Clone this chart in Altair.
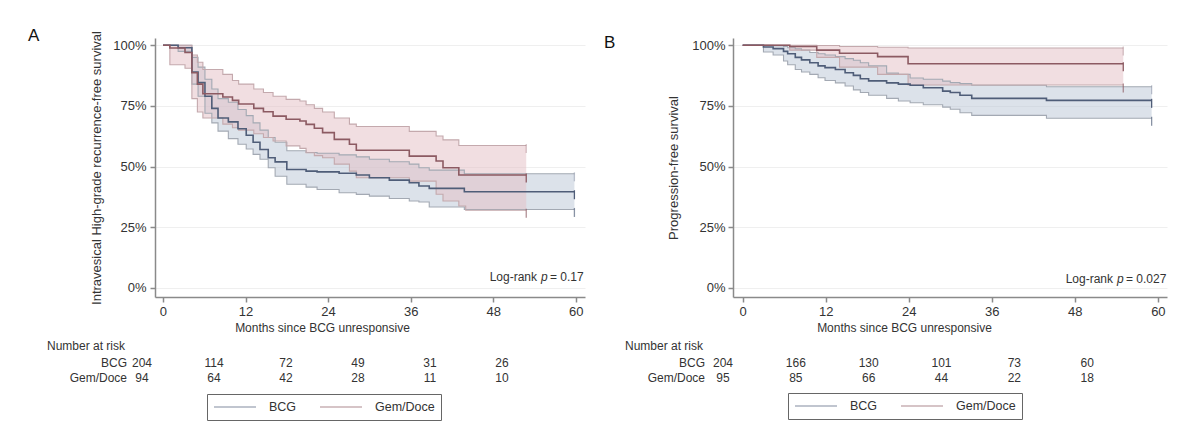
import altair as alt
import pandas as pd

GROUPS = ["BCG", "Gem/Doce"]
MONTH_TICKS = [0, 12, 24, 36, 48, 60]
PCT_TICKS = [0, 25, 50, 75, 100]

# ---------------- Panel A: intravesical high-grade recurrence-free survival
a_bcg_t = [0, 2.2, 4.2, 5.1, 6.1, 7.1, 8.0, 9.5, 10.9, 12.1, 13.1, 14.1, 15.3, 16.3, 18.0,
           20.8, 22.4, 25.6, 28.1, 30.0, 32.9, 35.8, 37.2, 38.7, 43.8, 59.8]
a_bcg_s = [100, 99, 89, 84.6, 79, 74, 70, 68.4, 65.6, 62.9, 60, 57, 53.6, 51.9, 48.8,
           48.1, 47.8, 47.2, 46.5, 45.4, 44.4, 43.3, 42, 41, 39.6, 39.6]
a_bcg_lo = [100, 97.5, 84, 79, 72, 68, 64.6, 61.5, 59.2, 57.2, 55, 53, 49.5, 46, 42.7,
            41.5, 40.5, 39.2, 38.5, 37.8, 36.8, 35.8, 35.4, 33.3, 32.3, 32.3]
a_bcg_hi = [100, 100, 95, 91, 86, 82, 78, 76.5, 73.5, 71, 68, 65, 62, 60, 56.5,
            55.8, 55.5, 54.8, 54, 53, 52, 51, 49.5, 48.5, 47, 47]

a_gem_t = [0, 1.0, 3.2, 4.2, 5.0, 5.8, 8.7, 10.1, 11.0, 13.2, 14.6, 16.0, 17.9, 19.9, 20.8,
           22.0, 23.2, 24.9, 27.1, 28.1, 35.8, 39.7, 40.7, 43.0, 44.0, 52.8]
a_gem_s = [100, 98.9, 97, 88.7, 84, 80, 78.7, 77.3, 75.8, 74, 72.6, 70.8, 69.5, 68.8, 67.4,
           65.8, 64, 61.2, 59.2, 56.7, 54.3, 52.3, 49.5, 46.5, 46.5, 46.5]
a_gem_lo = [100, 92, 90.5, 78, 72.5, 70, 67.5, 66, 65, 63.5, 62, 60.5, 58.5, 57.5, 55.7,
            54.5, 53.6, 51, 48.1, 45.4, 44, 38.6, 35.8, 33.7, 32.0, 32.0]
a_gem_hi = [100, 100, 100, 96, 93, 90, 88, 85.5, 84, 82, 80.5, 79, 77.7, 77, 75.5,
            74, 72.5, 70, 67.5, 66.5, 64.5, 62.6, 61, 58.7, 58.7, 58.7]

# ---------------- Panel B: progression-free survival
b_bcg_t = [0, 3.0, 4.4, 5.9, 6.5, 7.6, 8.5, 9.7, 10.9, 11.9, 13.4, 14.8, 16.0, 17.0, 18.2,
           20.8, 22.5, 24.2, 26.1, 28.9, 30.0, 31.4, 33.1, 43.9, 59.1]
b_bcg_s = [100, 99.3, 98.6, 97.5, 96.5, 95, 94, 92.8, 91.5, 90.8, 90, 88.7, 87.6, 86.2, 85.3,
           84.5, 84, 83.5, 82.5, 81.1, 80.5, 79.4, 78.1, 77.3, 77.3]
b_bcg_lo = [100, 97.2, 96, 93.5, 92, 90, 89, 88, 86.6, 85.5, 84.5, 83.2, 81.6, 80.5, 79.4,
            78.1, 77, 76.3, 75.5, 74.5, 73.6, 72.2, 71.1, 69.9, 69.9]
b_bcg_hi = [100, 100, 99.8, 99.5, 99, 98.5, 98, 97, 96.5, 96, 95.3, 94.5, 93.8, 92.8, 91.5,
            88.5, 88, 86.5, 86, 85.2, 84.6, 84.2, 83.5, 82.9, 82.9]

b_gem_t = [0, 6.8, 10.7, 14.0, 19.5, 23.9, 55.0]
b_gem_s = [100, 99.5, 98, 96.7, 95.3, 92.4, 92.4]
b_gem_lo = [100, 98, 95, 91, 88, 83.6, 83.6]
b_gem_hi = [100, 100, 99.9, 99.5, 99.2, 98.9, 98.9]

# ---------------- Number at risk
risk_a_bcg = [204, 114, 72, 49, 31, 26]
risk_a_gem = [94, 64, 42, 28, 11, 10]
risk_b_bcg = [204, 166, 130, 101, 73, 60]
risk_b_gem = [95, 85, 66, 44, 22, 18]

FONT = "Liberation Sans"
LINE_COLORS = ["#4f5d78", "#8c5a62"]
FILL_COLORS = ["#b9c6d6", "#e3bdc3"]
CI_COLORS = ["#a3a9b3", "#c4a9ad"]


def km(t, s, lo, hi, group):
    return pd.DataFrame({"t": t, "s": s, "lo": lo, "hi": hi, "group": group})


def panel(curves, risks, letter, ytitle, pvalue, geo):
    df = pd.concat(curves, ignore_index=True)
    ends = df.groupby("group").tail(1).melt(
        id_vars=["t", "group"], value_vars=["s", "lo", "hi"], var_name="kind", value_name="v")
    risk_df = pd.DataFrame({
        "t": MONTH_TICKS * 2,
        "n": risks[0] + risks[1],
        "row": [GROUPS[0]] * 6 + [GROUPS[1]] * 6,
    })
    rows_df = pd.DataFrame({"row": GROUPS})

    xs = alt.Scale(domain=geo["xdom"], nice=False, zero=False)
    xax = alt.Axis(values=MONTH_TICKS, title="Months since BCG unresponsive", grid=False,
                   titleX=geo["titleX"], titleAlign="center", labelPadding=3, titlePadding=4,
                   titleFontSize=12)
    ys = alt.Scale(domain=[-3.8, 103], nice=False, zero=False)
    yax = alt.Axis(values=PCT_TICKS, labelExpr="datum.value + '%'", grid=True, title=ytitle,
                   labelPadding=geo["labelPad"], titlePadding=geo["titlePad"], titleFontSize=13)

    def X():
        return alt.X("t:Q", scale=xs, axis=xax)

    def Y(f):
        return alt.Y(f, scale=ys, axis=yax)

    base = alt.Chart(df)
    area = base.mark_area(interpolate="step-after", fillOpacity=0.5).encode(
        x=X(), y=Y("lo:Q"), y2="hi:Q",
        fill=alt.Fill("group:N", scale=alt.Scale(domain=GROUPS, range=FILL_COLORS), legend=None))
    ci = base.transform_fold(["lo", "hi"], as_=["bound", "v"]).mark_line(
        interpolate="step-after", strokeWidth=1.1).encode(
        x=X(), y=Y("v:Q"),
        stroke=alt.Stroke("group:N", scale=alt.Scale(domain=GROUPS, range=CI_COLORS), legend=None),
        detail="bound:N")
    legend = alt.Legend(orient="none", legendX=geo["legX"], legendY=geo["legY"],
                        direction="horizontal", title=None, symbolType="stroke",
                        symbolSize=1764, clipHeight=14, symbolStrokeWidth=1.2,
                        symbolOpacity=0.4, labelFont=FONT, labelFontSize=12.5,
                        labelColor="#333", labelOffset=12, columnPadding=22, padding=6,
                        strokeColor="#666", cornerRadius=0)
    cscale = alt.Scale(domain=GROUPS, range=LINE_COLORS)
    line = base.mark_line(interpolate="step-after", strokeWidth=1.6).encode(
        x=X(), y=Y("s:Q"), color=alt.Color("group:N", scale=cscale, legend=legend))
    ticks = alt.Chart(ends).mark_tick(orient="vertical", size=9, thickness=1.3, yOffset=3).encode(
        x=X(), y=Y("v:Q"), color=alt.Color("group:N", scale=cscale),
        opacity=alt.Opacity("kind:N", scale=alt.Scale(domain=["s", "lo", "hi"], range=[1, 0.35, 0.35]),
                            legend=None))
    one = pd.DataFrame({"k": [0]})
    txt = dict(font=FONT, fontSize=12, color="#333", baseline="middle")
    lr1 = alt.Chart(one).mark_text(align="right", **txt).encode(
        x=alt.value(geo["lrX"][0]), y=alt.value(geo["lrY"]), text=alt.value("Log-rank"))
    lr2 = alt.Chart(one).mark_text(align="left", fontStyle="italic", **txt).encode(
        x=alt.value(geo["lrX"][1]), y=alt.value(geo["lrY"]), text=alt.value("p"))
    lr3 = alt.Chart(one).mark_text(align="left", **txt).encode(
        x=alt.value(geo["lrX"][2]), y=alt.value(geo["lrY"]), text=alt.value("= " + pvalue))

    main = alt.layer(area, ci, line, ticks, lr1, lr2, lr3)

    rs = alt.Scale(type="point", domain=GROUPS, range=[325, 340], padding=0)
    nums = alt.Chart(risk_df).mark_text(align="center", **txt).encode(
        x=alt.X("t:Q", scale=alt.Scale(domain=geo["tdom"], nice=False, zero=False), axis=None),
        y=alt.Y("row:N", scale=rs, axis=None), text="n:Q")
    rowlab = alt.Chart(rows_df).mark_text(align="right", **txt).encode(
        x=alt.value(-28), y=alt.Y("row:N", scale=rs, axis=None), text="row:N")
    head = alt.Chart(one).mark_text(align="left", **txt).encode(
        x=alt.value(-108), y=alt.value(308), text=alt.value("Number at risk"))
    table = alt.layer(nums, rowlab, head)

    return alt.layer(main, table).resolve_scale(x="independent", y="independent").properties(
        width=geo["w"], height=259,
        title=alt.TitleParams(letter, anchor="start", frame="group", dx=geo["dx"], offset=-14,
                              fontSize=17, fontWeight="normal", font=FONT, color="#111"))


A = panel([km(a_bcg_t, a_bcg_s, a_bcg_lo, a_bcg_hi, "BCG"),
           km(a_gem_t, a_gem_s, a_gem_lo, a_gem_hi, "Gem/Doce")],
          [risk_a_bcg, risk_a_gem], "A",
          "Intravesical High-grade recurrence-free survival", "0.17",
          dict(w=430, xdom=[-1.16, 61.34], tdom=[2.17, 73.83], titleX=167, labelPad=4,
               titlePad=9, legX=52, legY=356, lrX=[382, 386, 395], lrY=239, dx=-127))
B = panel([km(b_bcg_t, b_bcg_s, b_bcg_lo, b_bcg_hi, "BCG"),
           km(b_gem_t, b_gem_s, b_gem_lo, b_gem_hi, "Gem/Doce")],
          [risk_b_bcg, risk_b_gem], "B",
          "Progression-free survival", "0.027",
          dict(w=434, xdom=[-1.40, 61.32], tdom=[1.65, 73.15], titleX=171, labelPad=3,
               titlePad=11, legX=55, legY=355, lrX=[380, 384, 393], lrY=241, dx=-129))

chart = alt.hconcat(A, B, spacing=19).resolve_scale(
    color="independent", x="independent", y="independent"
).properties(
    padding={"left": 28, "top": 26, "right": 10, "bottom": 5}, background="white"
).configure_view(strokeWidth=0).configure_axis(
    domainColor="#8a8a8a", domainWidth=1.5, tickColor="#8a8a8a", tickWidth=1.5, tickSize=5,
    labelFont=FONT, labelFontSize=13, labelColor="#333", titleFont=FONT,
    titleFontWeight="normal", titleColor="#333", gridColor="#efefef", gridWidth=1
)

chart.save("out.html", embed_options={"renderer": "svg", "actions": False})
